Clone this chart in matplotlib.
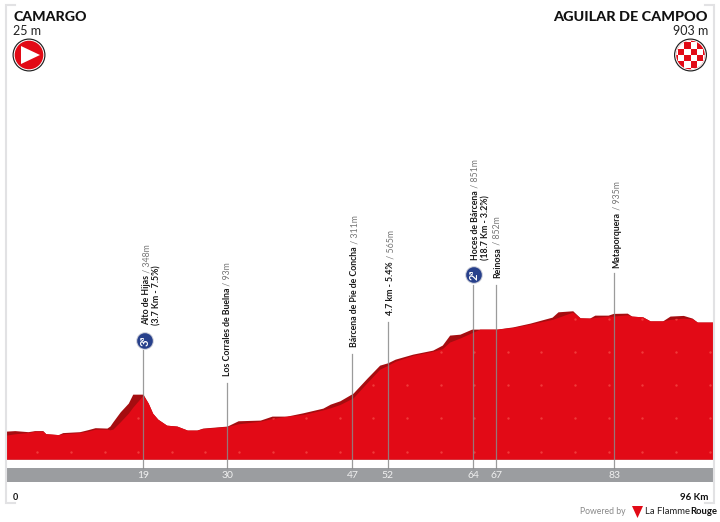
import matplotlib
matplotlib.use("Agg")
import matplotlib.pyplot as plt
import numpy as np
from matplotlib.patches import Circle, Polygon, Rectangle

plt.rcParams["font.family"] = ["Lato", "DejaVu Sans"]

# profile
KM = [0, 1.2, 3.0, 3.9, 5.0, 5.4, 7.1, 7.7, 10.0, 11.1, 12.1, 13.7, 14.1, 14.5, 15.5, 16.6,
      17.2, 18.6, 19.3, 19.9, 20.6, 21.8, 23.2, 24.6, 25.9, 26.7, 30.0, 31.5, 34.5, 36.1,
      38.1, 40.3, 43.0, 44.0, 45.3, 47.1, 49.0, 50.7, 51.8, 52.8, 55.2, 57.9, 59.2, 60.2,
      61.6, 63.2, 64.3, 66.6, 68.8, 71.1, 74.1, 74.9, 76.9, 77.9, 79.2, 79.9, 81.7, 82.4,
      84.3, 84.9, 86.4, 87.4, 89.1, 90.1, 91.9, 93.1, 93.8, 96]
ELEV = [30, 34, 26, 34, 34, 11, 4, 19, 26, 41, 56, 53, 68, 100, 175, 241,
        308, 308, 241, 165, 120, 75, 68, 38, 38, 53, 68, 108, 113, 143,
        143, 168, 203, 233, 258, 316, 429, 526, 544, 571, 609, 639, 677, 752,
        759, 797, 797, 797, 814, 842, 887, 927, 935, 882, 880, 902, 902, 915,
        917, 895, 889, 859, 859, 895, 900, 880, 850, 850]
# lower edge of the dark band on the climbs
INNER = [0, 10, 20, 30, 30, 11, 4, 10, 20, 30, 45, 45, 40, 45, 100, 165,
         210, 300, 241, 165, 120, 75, 68, 38, 38, 50, 65, 85, 105, 125,
         143, 155, 190, 205, 230, 280, 395, 495, 525, 555, 600, 630, 650, 700,
         730, 770, 797, 797, 810, 835, 870, 885, 925, 882, 880, 885, 895, 895,
         905, 895, 889, 859, 859, 870, 880, 875, 850, 850]

# vertical markers
MARK_KM = [18.6, 30.0, 47.0, 51.8, 63.4, 66.5, 82.5]
MARK_TOP = [639, 391, 609, 850, 1128, 1128, 1218]
MARK_LABELS = ["19", "30", "47", "52", "64", "67", "83"]

PLACE_NAMES = ["Alto de Hijas", "Los Corrales de Buelna", "Bárcena de Pie de Concha",
               "4.7 km - 5.4%", "Hoces de Bárcena", "Reinosa", "Mataporquera"]
PLACE_ALT = [" / 348m", " / 93m", " / 311m", " / 565m", " / 851m", " / 852m", " / 935m"]
PLACE_X = [146.5, 227.5, 354.5, 390.5, 475.5, 497.5, 616.5]
PLACE_BOTTOM = [325, 376, 347, 315, 260, 278, 268]

RED = "#e20a16"
DARK_RED = "#a50d10"
SPECK = "#f03a3a"
BAND = "#9b9da0"
FRAME = "#e2e2e4"

LABEL_SIZE = 6.3
W, H = 720, 522


def draw_frame(px):
    for x, dx in [(6, 9), (714, -9)]:
        px.plot([x + dx, x, x, x + dx], [5, 5, 503, 503], color=FRAME, lw=1.5, solid_joinstyle="miter")


def draw_start(px, x, y):
    px.add_patch(Circle((x, y), 16.5, fc="#222222", ec="none"))
    px.add_patch(Circle((x, y), 15.3, fc="white", ec="none"))
    px.add_patch(Circle((x, y), 14.3, fc=RED, ec="none"))
    px.add_patch(Polygon([(x - 8, y - 9), (x - 8, y + 9), (x + 11, y)], fc="white", ec="none"))


def draw_finish(px, x, y):
    px.add_patch(Circle((x, y), 16.5, fc="#222222", ec="none"))
    px.add_patch(Circle((x, y), 15.3, fc="white", ec="none"))
    disc = Circle((x, y), 14.3, fc=RED, ec="none")
    px.add_patch(disc)
    size = 6.4
    for i in range(-3, 3):
        for j in range(-3, 3):
            if (i + j) % 2 == 0:
                sq = Rectangle((x + i * size, y + j * size), size, size, fc="white", ec="none")
                px.add_patch(sq)
                sq.set_clip_path(disc)


def draw_badge(px, x, y, txt):
    px.add_patch(Circle((x, y), 8.8, fc="#c9cbd6", ec="none"))
    px.add_patch(Circle((x, y), 7.8, fc="#27408b", ec="none"))
    px.text(x, y, txt, rotation=90, color="white", fontsize=8, fontweight="bold", ha="center", va="center")


def draw_place(fig, px, x, bottom, name, alt):
    t = px.text(x, bottom, name, rotation=90, color="#1a1a1a", fontsize=LABEL_SIZE, fontweight="bold",
                ha="center", va="bottom")
    box = t.get_window_extent(fig.canvas.get_renderer())
    top = H - box.y1
    px.text(x, top, alt, rotation=90, color="#777777", fontsize=LABEL_SIZE, ha="center", va="bottom")


def main():
    fig = plt.figure(figsize=(W / 100, H / 100), dpi=100)

    # profile axes fill the whole figure: km across, metres up
    ax = fig.add_axes([0, 0, 1, 1])
    ax.set_xlim(-0.81, 96.88)
    ax.set_ylim(-653, 3271)
    ax.axis("off")

    base = -180
    ax.fill_between(KM, base, ELEV, color=DARK_RED, lw=0, zorder=2)
    body = ax.fill_between(KM, base, INNER, color=RED, lw=0, zorder=3)

    # faint speckle texture, only inside the red
    gx, gy = np.meshgrid(np.arange(4.26, 96, 4.56), np.arange(-124, 1000, 250))
    specks = ax.scatter(gx.ravel(), gy.ravel(), s=3, color=SPECK, lw=0, zorder=3.5)
    specks.set_clip_path(body.get_paths()[0], ax.transData)

    ax.axhspan(-353, -248, xmin=6 / W, xmax=713.5 / W, color=BAND, lw=0, zorder=1)
    for km, top, lab in zip(MARK_KM, MARK_TOP, MARK_LABELS):
        ax.plot([km, km], [-248, top], color="#8a8a8a", lw=0.9, alpha=0.85, zorder=4)
        ax.text(km, -300, lab, color="#f0f0f0", fontsize=7.5, ha="center", va="center", zorder=5)

    # overlay in picture pixels for the furniture
    px = fig.add_axes([0, 0, 1, 1])
    px.set_xlim(0, W)
    px.set_ylim(H, 0)
    px.axis("off")
    px.patch.set_alpha(0)

    draw_frame(px)

    px.text(13, 17, "CAMARGO", fontsize=10.2, fontweight="black", color="#111111", va="center")
    px.text(13, 31, "25 m", fontsize=9, color="#222222", va="center")
    px.text(708, 17, "AGUILAR DE CAMPOO", fontsize=10.4, fontweight="black", color="#111111", ha="right", va="center")
    px.text(708, 31, "903 m", fontsize=9, color="#222222", ha="right", va="center")
    draw_start(px, 29, 55)
    draw_finish(px, 690.5, 55)

    for x, bottom, name, alt in zip(PLACE_X, PLACE_BOTTOM, PLACE_NAMES, PLACE_ALT):
        draw_place(fig, px, x, bottom, name, alt)
    px.text(156.5, 325, "(3.7 Km - 7.5%)", rotation=90, color="#1a1a1a", fontsize=LABEL_SIZE, fontweight="bold",
            ha="center", va="bottom")
    px.text(485.5, 260, "(18.7 Km - 3.2%)", rotation=90, color="#1a1a1a", fontsize=LABEL_SIZE, fontweight="bold",
            ha="center", va="bottom")
    draw_badge(px, 145, 341, "3ª")
    draw_badge(px, 474, 275, "2ª")

    px.text(15, 497.5, "0", fontsize=6.5, fontweight="bold", color="#111111", ha="center", va="center")
    px.text(708, 498, "96 Km", fontsize=7, fontweight="bold", color="#111111", ha="right", va="center")

    px.text(626, 512, "Powered by", fontsize=6.2, color="#888888", ha="right", va="center")
    px.add_patch(Polygon([(632, 506), (643, 506), (637.5, 518)], fc=RED, ec="none"))
    t = px.text(645, 512, "La Flamme", fontsize=6.8, color="#222222", va="center")
    box = t.get_window_extent(fig.canvas.get_renderer())
    px.text(box.x1, 512, "Rouge", fontsize=6.8, color="#111111", fontweight="bold", va="center")

    fig.savefig("out.png", dpi=100)


if __name__ == "__main__":
    main()
